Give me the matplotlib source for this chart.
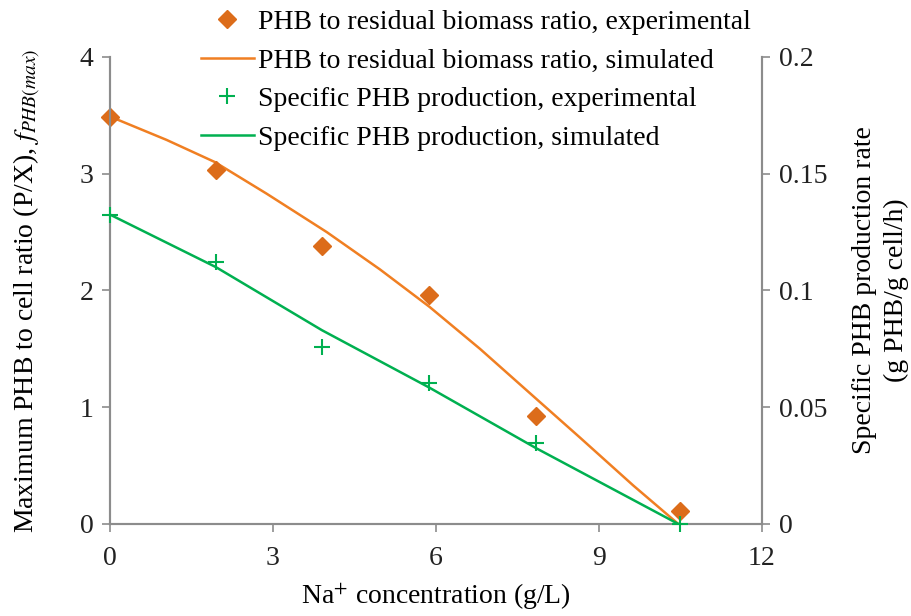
import numpy as np
import matplotlib.pyplot as plt
from matplotlib.lines import Line2D

plt.rcParams['font.family'] = ['Liberation Serif', 'DejaVu Serif']
plt.rcParams['mathtext.fontset'] = 'stix'
plt.rcParams['font.size'] = 20

# Experimental data
na_exp = [0, 1.95, 3.9, 5.87, 7.84, 10.5]
ratio_exp = [3.49, 3.03, 2.38, 1.96, 0.925, 0.11]
rate_exp = [0.1325, 0.112, 0.076, 0.0605, 0.0345, 0.0]

# Simulated curves
na_sim_ratio = [0, 1.04, 1.93, 2.88, 3.99, 4.97, 5.88, 6.81, 7.85, 8.65, 9.63, 10.46]
ratio_sim = [3.49, 3.29, 3.10, 2.83, 2.50, 2.18, 1.86, 1.50, 1.07, 0.74, 0.33, 0.0]
na_sim_rate = [0, 1.95, 3.9, 5.87, 7.84, 10.46]
rate_sim = [0.1325, 0.110, 0.083, 0.0585, 0.0325, 0.0]

ORANGE_PT = '#DC6C1A'
ORANGE_LN = '#F07F22'
GREEN = '#00B050'
AXCOL = '#8C8C8C'

fig = plt.figure(figsize=(9.12, 6.16), dpi=100)
ax = fig.add_axes([0.1206, 0.1494, 0.7149, 0.7581])
ax2 = ax.twinx()

ax.plot(na_sim_ratio, ratio_sim, color=ORANGE_LN, lw=1.8, zorder=2)
ax.plot(na_exp, ratio_exp, 'D', color=ORANGE_PT, ms=9, zorder=3, clip_on=False)
ax2.plot(na_sim_rate, rate_sim, color=GREEN, lw=1.8, zorder=2)
ax2.plot(na_exp, rate_exp, '+', color=GREEN, ms=11, mew=1.5, zorder=3, clip_on=False)

ax.set_xlim(0, 12)
ax.set_ylim(0, 4)
ax2.set_ylim(0, 0.2)
ax.set_xticks([0, 3, 6, 9, 12])
ax.set_yticks([0, 1, 2, 3, 4])
ax2.set_yticks([0, 0.05, 0.1, 0.15, 0.2])
ax2.set_yticklabels(['0', '0.05', '0.1', '0.15', '0.2'])

for a in (ax, ax2):
    a.spines['top'].set_visible(False)
    for s in ('left', 'right', 'bottom'):
        a.spines[s].set_color(AXCOL)
        a.spines[s].set_linewidth(1.5)
    a.tick_params(direction='out', length=6, width=1.2, color=AXCOL, labelcolor='#222222', pad=6)
ax.tick_params(axis='x', pad=10)

ax.set_xlabel('Na$^{+}$ concentration (g/L)', labelpad=7)
ax.set_ylabel('Maximum PHB to cell ratio (P/X), $f_{PHB(max)}$', labelpad=26)
ax2.set_ylabel('Specific PHB production rate\n(g PHB/g cell/h)', labelpad=18, linespacing=1.35)

handles = [
    Line2D([], [], ls='none', marker='D', color=ORANGE_PT, ms=9),
    Line2D([], [], color=ORANGE_LN, lw=1.8),
    Line2D([], [], ls='none', marker='+', color=GREEN, ms=11, mew=1.5),
    Line2D([], [], color=GREEN, lw=1.8),
]
labels = [
    'PHB to residual biomass ratio, experimental',
    'PHB to residual biomass ratio, simulated',
    'Specific PHB production, experimental',
    'Specific PHB production, simulated',
]
fig.legend(handles, labels, loc='upper left', bbox_to_anchor=(198 / 912, 1 - 7 / 616),
           bbox_transform=fig.transFigure, frameon=False, borderpad=0.1, borderaxespad=0,
           handlelength=1.9, handletextpad=0.15, labelspacing=0.47)

fig.savefig('out.png', dpi=100)
